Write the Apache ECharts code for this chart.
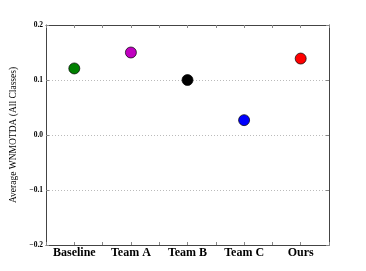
<!DOCTYPE html>
<html><head><meta charset="utf-8">
<script src="https://cdn.jsdelivr.net/npm/echarts@6/dist/echarts.min.js"></script>
<style>html,body{margin:0;padding:0;background:#fff}#c{width:366px;height:271px}</style>
</head><body><div id="c"></div>
<script>
const categories = ["Baseline", "Team A", "Team B", "Team C", "Ours"];
const values = [0.121, 0.150, 0.100, 0.027, 0.139];
const colors = ["#008000", "#c000c0", "#000000", "#0000ff", "#ff0000"];
const yTicks = [-0.2, -0.1, 0.0, 0.1, 0.2];
const yName = "Average WNMOTDA (All Classes)";

const serif = "'Liberation Serif', 'DejaVu Serif', serif";
const chart = echarts.init(document.getElementById('c'));
const xCommon = {
  type: 'value', min: -0.5, max: 4.5, interval: 0.5,
  splitLine: {show: false},
  axisLine: {show: true, onZero: false, lineStyle: {color: '#444', width: 1}},
  axisTick: {show: true, inside: true, length: 3, lineStyle: {color: '#888'}}
};
const yCommon = {
  type: 'value', min: -0.2, max: 0.2, interval: 0.1,
  axisLine: {show: true, onZero: false, lineStyle: {color: '#444'}},
  axisTick: {show: true, inside: true, length: 3, lineStyle: {color: '#888'}}
};
chart.setOption({
  animation: false,
  grid: {left: 46, right: 37, top: 25, bottom: 26, show: false},
  xAxis: [
    Object.assign({}, xCommon, {position: 'bottom',
      axisLabel: {show: true, fontFamily: serif, fontWeight: 'bold', fontSize: 12, color: '#000', margin: 2,
        formatter: v => (Number.isInteger(v) && categories[v] !== undefined) ? categories[v] : ''}}),
    Object.assign({}, xCommon, {position: 'top', axisLabel: {show: false}})
  ],
  yAxis: [
    Object.assign({}, yCommon, {position: 'left',
     name: yName, nameLocation: 'middle', nameGap: 21, nameRotate: 90,
     nameTextStyle: {fontFamily: serif, fontSize: 9.5, color: '#000'},
     axisLabel: {fontFamily: serif, fontWeight: 'bold', fontSize: 7.5, color: '#000', margin: 3,
       formatter: v => { const t = yTicks.find(x => Math.abs(x - v) < 1e-9); const s = (t === undefined ? v : t).toFixed(1); return s.replace('-', '\u2212'); }},
     splitLine: {show: true, lineStyle: {color: '#bbb', type: [1, 2], width: 1}}}),
    Object.assign({}, yCommon, {position: 'right', axisLabel: {show: false}, splitLine: {show: false}})
  ],
  series: [{
    type: 'scatter', xAxisIndex: 0, yAxisIndex: 0,
    symbolSize: 11,
    data: values.map((v, i) => ({value: [i, v], itemStyle: {color: colors[i], opacity: 1, borderColor: '#000', borderWidth: 0.7}}))
  }]
});
</script></body></html>
